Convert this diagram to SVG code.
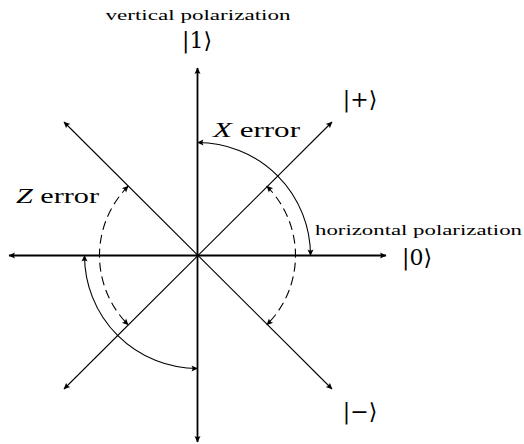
<svg xmlns="http://www.w3.org/2000/svg" width="524" height="444" viewBox="0 0 524 444">
<style>
.ax{stroke:#000;stroke-width:1.8;fill:none}
.dg{stroke:#000;stroke-width:1.1;fill:none}
.arc{stroke:#000;stroke-width:1.1;fill:none}
.dash{stroke-dasharray:9 5}
.lbl{font-family:"Liberation Serif","DejaVu Serif",serif;fill:#000}
.ket{font-family:"DejaVu Serif","Liberation Serif",serif;font-size:22px;fill:#000;text-anchor:middle}
</style>
<defs>
<marker id="ah" viewBox="-8 -5 10 10" refX="0" refY="0" markerWidth="10" markerHeight="10" markerUnits="userSpaceOnUse" orient="auto-start-reverse">
<path d="M0.5,0 L-6,-3 Q-4,0 -6,3 Z" fill="#000"/>
</marker>
</defs>
<g id="connectors">
<line class="ax" x1="197.5" y1="442" x2="197.5" y2="68" marker-start="url(#ah)" marker-end="url(#ah)"/>
<line class="ax" x1="9" y1="255.5" x2="386" y2="255.5" marker-start="url(#ah)" marker-end="url(#ah)"/>
<line class="dg" x1="64" y1="389" x2="332" y2="122" marker-start="url(#ah)" marker-end="url(#ah)"/>
<line class="dg" x1="64" y1="122" x2="332" y2="389" marker-start="url(#ah)" marker-end="url(#ah)"/>
<path class="arc" d="M310.5,255.5 A113,113 0 0 0 197.5,142.5" marker-start="url(#ah)" marker-end="url(#ah)"/>
<path class="arc" d="M84.5,255.5 A113,113 0 0 0 197.5,368.5" marker-start="url(#ah)" marker-end="url(#ah)"/>
<path class="arc dash" d="M266.8,186.2 A98,98 0 0 1 266.8,324.8" marker-start="url(#ah)" marker-end="url(#ah)"/>
<path class="arc dash" d="M128.2,186.2 A98,98 0 0 0 128.2,324.8" marker-start="url(#ah)" marker-end="url(#ah)"/>
</g>
<g id="label-vertical">
<text class="lbl" x="198" y="20" font-size="15" text-anchor="middle" textLength="185" lengthAdjust="spacingAndGlyphs">vertical polarization</text>
<text class="ket" x="197" y="48">|1⟩</text>
</g>
<g id="label-horizontal">
<text class="lbl" x="315" y="235" font-size="15" textLength="207" lengthAdjust="spacingAndGlyphs">horizontal polarization</text>
<text class="ket" x="417" y="265">|0⟩</text>
</g>
<g id="label-plus"><text class="ket" x="360" y="107">|+⟩</text></g>
<g id="label-minus"><text class="ket" x="360" y="419">|−⟩</text></g>
<g id="label-x"><text class="lbl" x="213" y="137" font-size="21" textLength="87" lengthAdjust="spacingAndGlyphs"><tspan font-style="italic">X</tspan> error</text></g>
<g id="label-z"><text class="lbl" x="16" y="203" font-size="21" textLength="83" lengthAdjust="spacingAndGlyphs"><tspan font-style="italic">Z</tspan> error</text></g>
</svg>
